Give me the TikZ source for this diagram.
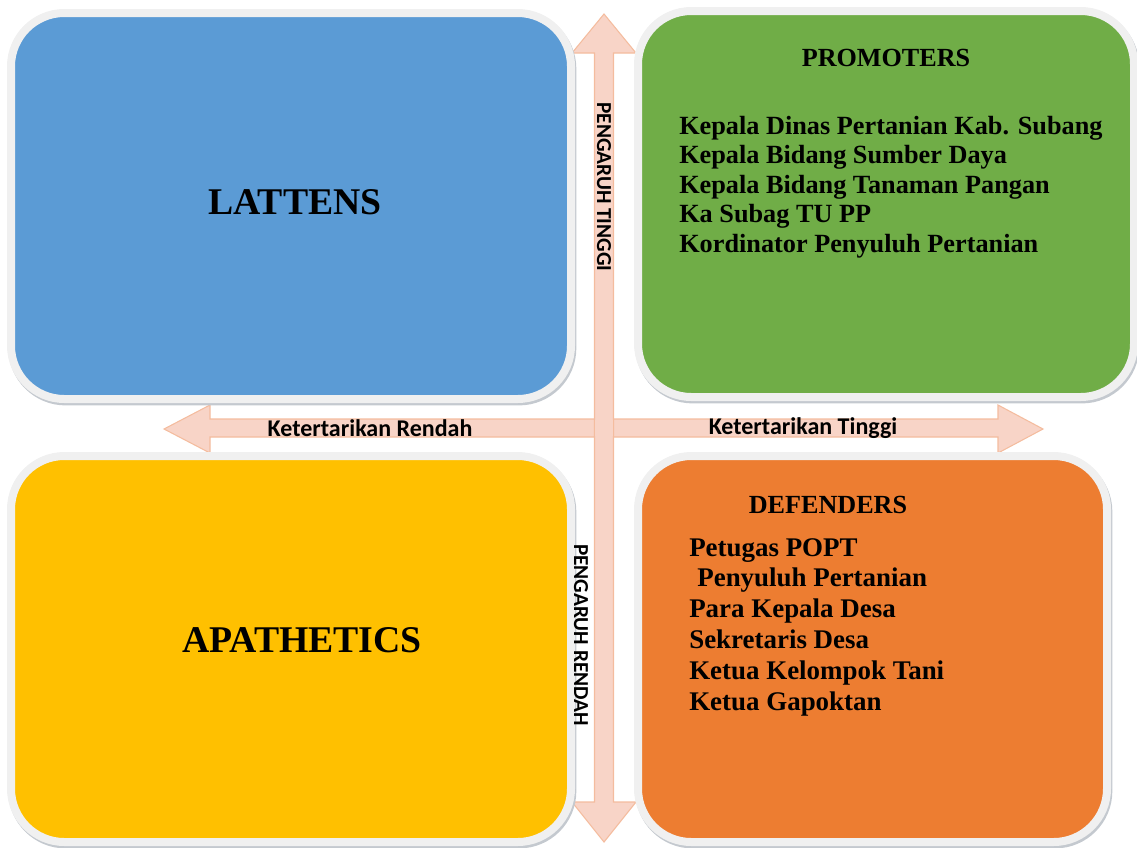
\documentclass[tikz,border=0pt]{standalone}
\usepackage{fontspec}
\setmainfont{Liberation Serif}
\newfontfamily\calibri{Carlito}
\definecolor{cblue}{HTML}{5B9BD5}
\definecolor{cgreen}{HTML}{70AD47}
\definecolor{cyellow}{HTML}{FFC000}
\definecolor{corange}{HTML}{ED7D31}
\definecolor{arrfill}{HTML}{F8D4C7}
\definecolor{arrdraw}{HTML}{F4BC9E}
\definecolor{boxgray}{HTML}{F0F0F0}
\definecolor{shadowgray}{HTML}{C4C9CF}
\begin{document}
\begin{tikzpicture}[x=0.75pt,y=-0.75pt,
  quad/.style={rectangle, rounded corners=40pt, draw=boxgray, line width=6pt,
    minimum height=289.5pt, inner sep=0pt,
    preaction={draw=shadowgray, line width=6pt, transform canvas={xshift=1pt,yshift=-1.8pt}}},
  bigtitle/.style={font=\bfseries\fontsize{28.3}{30}\selectfont, inner sep=0pt},
  title/.style={font=\bfseries\fontsize{19.6}{22}\selectfont, inner sep=0pt},
  listtxt/.style={font=\bfseries\fontsize{19.7}{22.1}\selectfont, align=left, inner sep=0pt, anchor=north west},
  axislbl/.style={font=\calibri\bfseries\fontsize{18}{20}\selectfont, inner sep=0pt},
  vaxislbl/.style={font=\calibri\bfseries\fontsize{16}{18}\selectfont, inner sep=0pt, rotate=-90},
  arrow/.style={fill=arrfill, draw=arrdraw, line width=0.8pt, line join=miter}]
\useasboundingbox (0,0) rectangle (1137,847);
% axes
\draw[arrow] (164,429) -- (210,405) -- (210,419) -- (998,419) -- (998,405) -- (1043,429)
  -- (998,453) -- (998,437) -- (210,437) -- (210,453) -- cycle;
\draw[arrow] (604,14) -- (636,53) -- (613.5,53) -- (613.5,802) -- (636,802) -- (604,842)
  -- (572,802) -- (594.5,802) -- (594.5,53) -- (572,53) -- cycle;
\fill[arrfill] (595.2,419.8) rectangle (612.8,436.2);
% quadrants
\node[quad, fill=cblue, minimum width=420pt] (lat) at (291,206) {};
\node[quad, fill=cgreen, minimum width=372pt] (pro) at (886,204) {};
\node[quad, fill=cyellow, minimum width=420pt] (apa) at (291,649) {};
\node[quad, fill=corange, minimum width=351.75pt] (def) at (872.5,649) {};
% labels
\node[bigtitle] (latt) at (295,202) {LATTENS};
\node[bigtitle] (apat) at (302,640) {APATHETICS};
\node[title] (prot) at (886,58) {PROMOTERS};
\node[title] (deft) at (828,505) {DEFENDERS};
\node[listtxt] (prol) at (679,116) {Kepala Dinas Pertanian Kab. Subang\\Kepala Bidang Sumber Daya\\Kepala Bidang Tanaman Pangan\\Ka Subag TU PP\\Kordinator Penyuluh Pertanian};
\node[listtxt, font=\bfseries\fontsize{20.2}{23.1}\selectfont] (defl) at (689,538) {Petugas POPT\\\hspace*{0.3em}Penyuluh Pertanian\\Para Kepala Desa\\Sekretaris Desa\\Ketua Kelompok Tani\\Ketua Gapoktan};
\node[axislbl] (kr) at (370,428) {Ketertarikan Rendah};
\node[axislbl] (kt) at (803,428) {Ketertarikan Tinggi};
\node[vaxislbl] (pt) at (604,187) {PENGARUH TINGGI};
\node[vaxislbl] (pr) at (581,635) {PENGARUH RENDAH};
\end{tikzpicture}
\end{document}
